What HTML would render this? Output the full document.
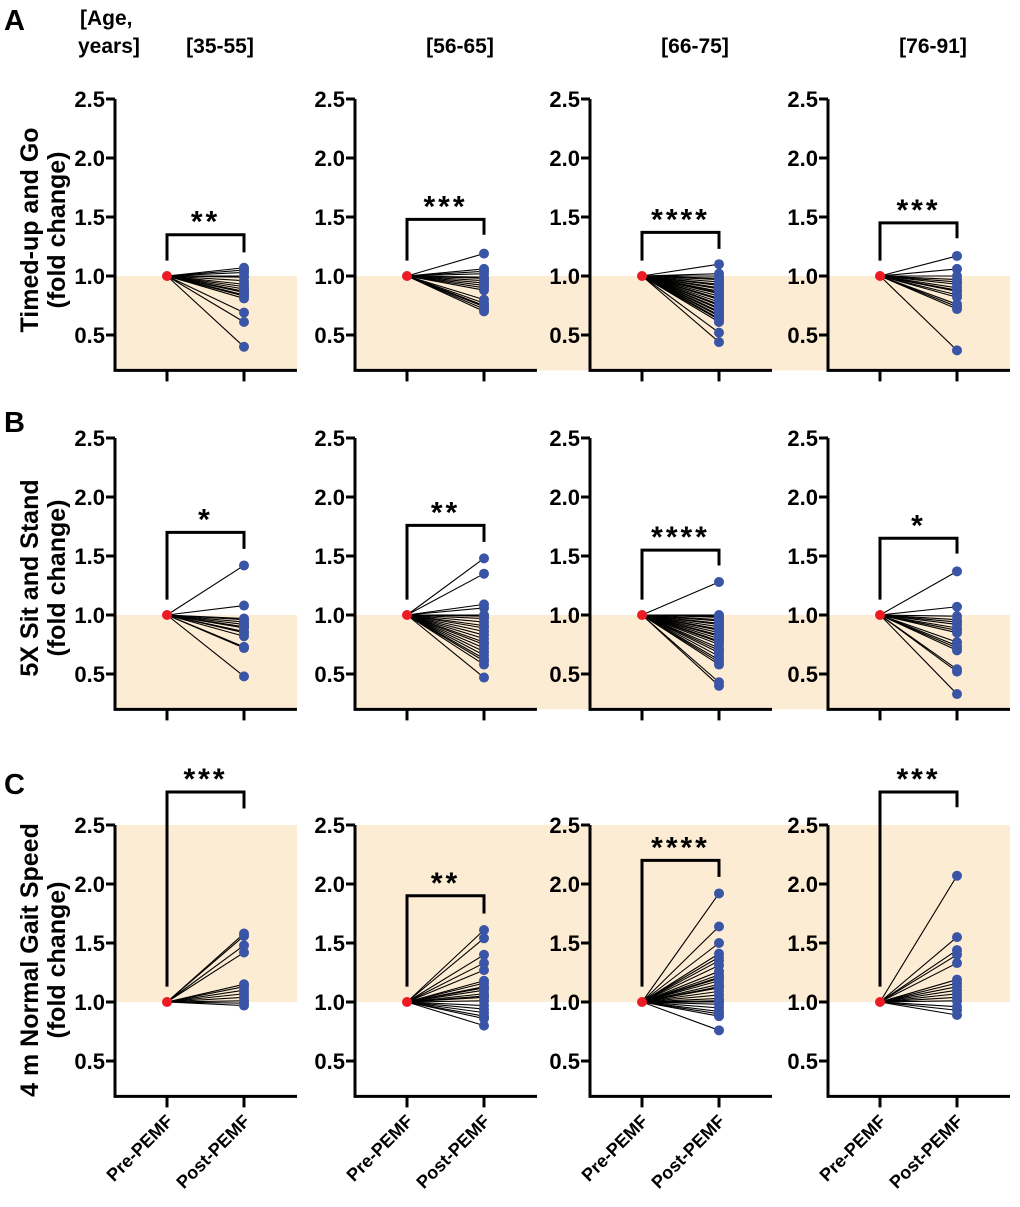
<!DOCTYPE html>
<html><head><meta charset="utf-8"><style>
html,body{margin:0;padding:0;background:#fff;}
svg{display:block;font-family:"Liberation Sans",Arial,sans-serif;}
</style></head><body>
<svg id="fig" width="1020" height="1207" viewBox="0 0 1020 1207" xmlns="http://www.w3.org/2000/svg">
<text x="4" y="30" font-size="29" font-weight="bold">A</text>
<text x="4" y="432" font-size="29" font-weight="bold">B</text>
<text x="4" y="794" font-size="29" font-weight="bold">C</text>
<text x="80" y="25" font-size="21" font-weight="bold">[Age,</text>
<text x="78" y="53" font-size="21" font-weight="bold">years]</text>
</svg>
<script>
const ageGroups = ["[35-55]","[56-65]","[66-75]","[76-91]"];
const rowTitles = [["Timed-up and Go","(fold change)"],["5X Sit and Stand","(fold change)"],["4 m Normal Gait Speed","(fold change)"]];
const yTicks = [0.5,1.0,1.5,2.0,2.5];
const yTickLabels = ["0.5","1.0","1.5","2.0","2.5"];
const xCategories = ["Pre-PEMF","Post-PEMF"];
const preValue = 1.0;
const postA1 = [1.07,1.05,1.03,1.0,0.99,0.96,0.93,0.91,0.89,0.87,0.86,0.84,0.83,0.81,0.69,0.61,0.40];
const postA2 = [1.19,1.06,1.04,1.02,0.99,0.98,0.96,0.94,0.92,0.90,0.88,0.80,0.77,0.75,0.74,0.72,0.70];
const postA3 = [1.10,1.02,1.0,0.98,0.97,0.95,0.93,0.92,0.90,0.89,0.87,0.86,0.85,0.83,0.81,0.80,0.78,0.76,0.75,0.73,0.72,0.70,0.69,0.67,0.66,0.64,0.63,0.61,0.52,0.44];
const postA4 = [1.17,1.06,1.0,0.97,0.95,0.93,0.90,0.88,0.87,0.84,0.82,0.76,0.74,0.72,0.37];
const postB1 = [1.42,1.08,0.97,0.96,0.94,0.92,0.90,0.89,0.86,0.85,0.82,0.73,0.72,0.48];
const postB2 = [1.48,1.35,1.09,1.06,1.0,0.99,0.97,0.94,0.91,0.89,0.86,0.83,0.80,0.77,0.75,0.72,0.69,0.66,0.63,0.61,0.58,0.47];
const postB3 = [1.28,1.0,0.99,0.98,0.96,0.95,0.93,0.92,0.90,0.88,0.87,0.85,0.83,0.82,0.80,0.78,0.77,0.75,0.72,0.70,0.68,0.65,0.62,0.60,0.58,0.43,0.40];
const postB4 = [1.37,1.07,0.99,0.96,0.94,0.92,0.89,0.87,0.85,0.77,0.74,0.72,0.70,0.54,0.52,0.33];
const postC1 = [1.58,1.56,1.48,1.42,1.15,1.13,1.10,1.07,1.04,1.01,0.99,0.97];
const postC2 = [1.61,1.54,1.40,1.33,1.27,1.18,1.16,1.13,1.12,1.10,1.07,1.05,1.04,1.01,0.97,0.94,0.91,0.88,0.86,0.80];
const postC3 = [1.92,1.64,1.50,1.41,1.38,1.35,1.31,1.26,1.23,1.21,1.20,1.18,1.15,1.13,1.12,1.09,1.06,1.03,1.01,1.0,0.98,0.95,0.92,0.90,0.88,0.76];
const postC4 = [2.07,1.55,1.44,1.40,1.33,1.19,1.16,1.13,1.10,1.07,1.04,1.01,0.96,0.93,0.89];
const stars = [["**","***","****","***"],["*","**","****","*"],["***","**","****","***"]];
const bracketTop = [[1.35,1.48,1.37,1.45],[1.70,1.76,1.55,1.65],[2.78,1.90,2.20,2.78]];
const bracketRight = [[1.20,1.35,1.23,1.32],[1.56,1.62,1.42,1.52],[2.64,1.75,2.06,2.65]];
const bracketLeft = 1.13;
const postData = [[postA1,postA2,postA3,postA4],[postB1,postB2,postB3,postB4],[postC1,postC2,postC3,postC4]];

const NS="http://www.w3.org/2000/svg";
const svg=document.getElementById('fig');
const axisX=[115,355,590,828];
const rowTop=[99,438,825];
const UNIT=118, YMIN=0.2, YMAX=2.5;
function mk(tag,attrs,parent){const e=document.createElementNS(NS,tag);for(const k in attrs)e.setAttribute(k,attrs[k]);(parent||svg).appendChild(e);return e;}
function yScale(r,v){return rowTop[r]+(YMAX-v)*UNIT;}
function xScale(c,i){return axisX[c]+52+i*77;}

ageGroups.forEach((g,c)=>{
  const t=mk('text',{x:axisX[c]+105,y:53,'font-size':21,'font-weight':'bold','text-anchor':'middle'});
  
  
  t.textContent=g;
});
const titleCY=[230,578,960];
rowTitles.forEach((lines,r)=>{
  lines.forEach((ln,j)=>{
    const x=j===0?38:65;
    const t=mk('text',{x:x,y:titleCY[r],'font-size':25,'font-weight':'bold','text-anchor':'middle',transform:`rotate(-90 ${x} ${titleCY[r]})`});
    
    
    t.textContent=ln;
  });
});

for(let r=0;r<3;r++){
  for(let c=0;c<4;c++){
    const g=mk('g',{});
    
    
    const ax=axisX[c];
    const xEnd = c===3?1010:(c===0?297:axisX[c+1]);
    const yb=yScale(r,YMIN), yt=yScale(r,YMAX), y1=yScale(r,1.0);
    const sh = r<2 ? mk('rect',{x:ax,y:y1,width:xEnd-ax,height:yb-y1,fill:'#fdecd4'},g)
                   : mk('rect',{x:ax,y:yt,width:xEnd-ax,height:y1-yt,fill:'#fdecd4'},g);
    
    
    const axEnd = c===3?1010:ax+182;
    const yaxis=mk('path',{d:`M${ax} ${yt} V${yb} H${axEnd}`,stroke:'#000','stroke-width':3,fill:'none'},g);
    
    
    yTicks.forEach((v,i)=>{
      const y=yScale(r,v);
      mk('line',{x1:ax-9,x2:ax,y1:y,y2:y,stroke:'#000','stroke-width':3},g);
      const t=mk('text',{x:ax-10,y:y+8,'font-size':22,'font-weight':'bold','text-anchor':'end'},g);
      
      
      t.textContent=yTickLabels[i];
    });
    xCategories.forEach((cat,i)=>{
      const x=xScale(c,i);
      mk('line',{x1:x,x2:x,y1:yb,y2:yb+11,stroke:'#000','stroke-width':3},g);
      if(r===2){
        const tx=x+7, ty=yb+26;
        const t=mk('text',{x:tx,y:ty,'font-size':18,'font-weight':'bold','text-anchor':'end',transform:`rotate(-45 ${tx} ${ty})`},g);
        
        
        t.textContent=cat;
      }
    });
    const xp=xScale(c,0), xq=xScale(c,1), yp=yScale(r,preValue);
    postData[r][c].forEach(v=>{
      const l=mk('line',{x1:xp,y1:yp,x2:xq,y2:yScale(r,v),stroke:'#000','stroke-width':1.1},g);
      
      
    });
    postData[r][c].forEach(v=>{
      const d=mk('circle',{cx:xq,cy:yScale(r,v),r:5,fill:'#3a55a6'},g);
      
      
    });
    const pd=mk('circle',{cx:xp,cy:yp,r:5,fill:'#ec1c24'},g);
    
    
    const bt=yScale(r,bracketTop[r][c]);
    const br=mk('path',{d:`M${xp} ${yScale(r,bracketLeft)} V${bt} H${xq} V${yScale(r,bracketRight[r][c])}`,stroke:'#000','stroke-width':3,fill:'none'},g);
    
    
    const st=mk('text',{x:(xp+xq)/2,y:bt-3,'font-size':30,'font-weight':'bold','text-anchor':'middle','letter-spacing':'3'},g);
    
    
    st.textContent=stars[r][c];
  }
}
</script>
</body></html>
